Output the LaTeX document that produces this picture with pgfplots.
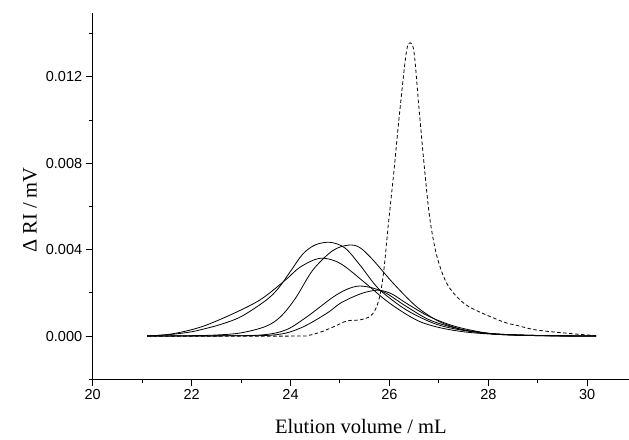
\documentclass[border=0pt]{standalone}
\usepackage{fontspec}
\setmainfont{Liberation Serif}
\newfontfamily\arialf{Liberation Sans}
\usepackage{pgfplots}
\pgfplotsset{compat=1.18}

\begin{document}
\begin{tikzpicture}[x=1pt,y=1pt]
\path[use as bounding box] (-92.7,-59.7) rectangle (536.3,379.3);
\begin{axis}[
  at={(0,0)}, anchor=south west, scale only axis,
  width=536.3pt, height=366.6pt,
  xmin=20, xmax=30.845, ymin=-0.002, ymax=0.01497,
  axis lines=left, axis line style={-, line width=1.2pt},
  xtick={20,22,24,26,28,30}, minor xtick={21,23,25,27,29},
  ytick={0,0.004,0.008,0.012}, minor ytick={-0.002,0.002,0.006,0.010,0.014},
  tick align=outside, major tick length=7pt, minor tick length=4pt,
  tick style={black, line width=1pt},
  scaled y ticks=false,
  yticklabel style={/pgf/number format/.cd, fixed, fixed zerofill, precision=3},
  /pgf/number format/assume math mode=true,
  ticklabel style={font=\arialf\fontsize{14.5}{16}\selectfont},
  xlabel={Elution volume / mL},
  xlabel style={font=\fontsize{20.5}{22}\selectfont, at={(axis description cs:0.5,-0.1488)}, anchor=base},
  ylabel={Δ RI / mV},
  ylabel style={font=\fontsize{20.5}{22}\selectfont, at={(axis description cs:-0.1169,0.4618)}, anchor=center},
  no markers,
  cycle list={{black, solid}},
  every axis plot/.append style={black, line width=0.8pt, smooth, tension=0.55},
]
% Curve A
\addplot coordinates {(21.1,0) (21.6,0.00008) (22.0,0.0002) (22.3,0.00036) (22.6,0.00055) (23.0,0.0009) (23.5,0.00165) (23.75,0.0022) (24.0,0.003) (24.25,0.0038) (24.5,0.00422) (24.8,0.00434) (25.1,0.00408) (25.4,0.0033) (25.7,0.0024) (25.9,0.00195) (26.35,0.0012) (26.9,0.00059) (27.4,0.0003) (28.0,0.00013) (28.5,0.00006) (29.0,0.00003) (29.5,0.00001) (30.18,0)};
% Curve C
\addplot coordinates {(21.1,0) (21.6,0.0001) (22.2,0.00043) (22.85,0.00105) (23.4,0.0017) (23.9,0.0026) (24.2,0.0032) (24.6,0.0036) (25.0,0.00337) (25.5,0.00248) (26.0,0.00153) (26.55,0.00074) (27.0,0.0004) (27.5,0.0002) (28.0,0.0001) (28.5,0.00005) (29.0,0.00002) (30.18,0)};
% Curve B
\addplot coordinates {(21.1,0) (22.0,0.00002) (22.5,0.00005) (23.0,0.00015) (23.5,0.00045) (23.8,0.0009) (24.1,0.00175) (24.45,0.00305) (24.85,0.00395) (25.17,0.00421) (25.4,0.0041) (25.67,0.00352) (26.08,0.00244) (26.55,0.00136) (27.0,0.00068) (27.4,0.00035) (27.7,0.0002) (28.2,0.00008) (28.64,0.00004) (29.3,0.00001) (30.18,0)};
% Curve D
\addplot coordinates {(21.1,0) (22.5,0.00001) (23.4,0.00005) (23.9,0.00028) (24.33,0.00089) (24.87,0.00182) (25.2,0.00222) (25.47,0.00231) (25.88,0.00205) (26.35,0.00136) (26.82,0.00074) (27.36,0.00036) (27.9,0.00015) (28.5,0.00006) (29.2,0.00002) (30.18,0)};
% Curve E
\addplot coordinates {(21.1,0) (22.5,0.00001) (23.65,0.00005) (24.19,0.00036) (24.73,0.00105) (25.0,0.00151) (25.3,0.00185) (25.55,0.00205) (25.8,0.00212) (26.05,0.00195) (26.35,0.00151) (26.82,0.00089) (27.36,0.00043) (28.03,0.00012) (28.6,0.00005) (29.3,0.00002) (30.18,0)};
% Dashed
\addplot[dash pattern=on 3.5pt off 2.5pt] coordinates {(21.1,0) (24.0,0) (24.35,0.00003) (24.6,0.00018) (24.87,0.00043) (25.14,0.0007) (25.4,0.00075) (25.6,0.0009) (25.71,0.0012) (25.8,0.0018) (25.88,0.0029) (25.98,0.0052) (26.09,0.0076) (26.2,0.0102) (26.34,0.0131) (26.42,0.01358) (26.5,0.0131) (26.6,0.0105) (26.72,0.0075) (26.82,0.0054) (26.96,0.0037) (27.16,0.00244) (27.43,0.00167) (27.7,0.00125) (28.3,0.00066) (28.57,0.0005) (28.98,0.00028) (29.65,0.00012) (30.18,0.00002)};
\end{axis}
\end{tikzpicture}
\end{document}
